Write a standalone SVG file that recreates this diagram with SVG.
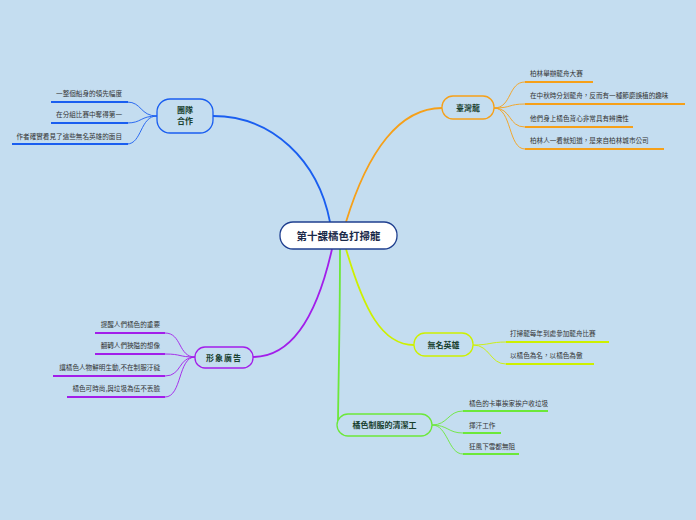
<svg xmlns="http://www.w3.org/2000/svg" width="696" height="520" viewBox="0 0 696 520">
<style>
text{font-family:"Noto Sans CJK TC","Noto Sans CJK SC",sans-serif;}
.leaf{font-size:6.6px;fill:#333;}
.topic{font-size:8px;font-weight:bold;fill:#17402E;}
.main{fill:none;stroke-width:1.8;}
.sub{fill:none;stroke-width:0.9;}
.ul{fill:none;stroke-width:2;}
.blue{stroke:#1A5EF0;}
.orange{stroke:#F6A019;}
.purple{stroke:#A21EEA;}
.yellow{stroke:#CDF000;}
.green{stroke:#6CE83A;}
.node{fill:#C4DDF0;stroke-width:1.3;}
</style>
<rect width="696" height="520" fill="#C4DDF0"/>
<g id="connectors">
<path class="main blue" d="M330,222 C318,160 272,116 213,116"/>
<path class="main orange" d="M346,222 C368,150 400,108 442,108"/>
<path class="main purple" d="M332,249 C316,320 290,357 253,357"/>
<path class="main yellow" d="M346,249 C364,310 382,345 414,345"/>
<path class="main green" d="M340,249 C340,330 338,400 338,425"/>
<path class="sub blue" d="M157,116 C140,116 142,102 127,102"/>
<path class="sub blue" d="M157,116 C140,116 142,123 127,123"/>
<path class="sub blue" d="M157,116 C140,116 142,144 127,144"/>
<path class="sub orange" d="M494,108 C512,108 508,82 525,82"/>
<path class="sub orange" d="M494,108 C512,108 508,104 525,104"/>
<path class="sub orange" d="M494,108 C512,108 508,127 525,127"/>
<path class="sub orange" d="M494,108 C512,108 508,149 525,149"/>
<path class="sub purple" d="M195,357 C178,357 182,333 165,333"/>
<path class="sub purple" d="M195,357 C178,357 182,354 165,354"/>
<path class="sub purple" d="M195,357 C178,357 182,376 165,376"/>
<path class="sub purple" d="M195,357 C178,357 182,397 165,397"/>
<path class="sub yellow" d="M473,345 C490,345 490,342 506,342"/>
<path class="sub yellow" d="M473,345 C490,345 490,364 506,364"/>
<path class="sub green" d="M432,425 C448,425 448,411 463,411"/>
<path class="sub green" d="M432,425 C448,425 448,433 463,433"/>
<path class="sub green" d="M432,425 C448,425 448,454 463,454"/>
</g>
<g id="center">
<rect x="280" y="222" width="117" height="27" rx="13" fill="#fff" stroke="#1F3F8F" stroke-width="1.3"/>
<text x="338.5" y="239.5" text-anchor="middle" font-size="10.5" font-weight="bold" fill="#1B2A4A">第十課橘色打掃龍</text>
</g>
<g id="team">
<rect class="node blue" x="157" y="99" width="56" height="34" rx="13"/>
<text class="topic" x="185" y="113" text-anchor="middle">團隊</text>
<text class="topic" x="185" y="124" text-anchor="middle">合作</text>
</g>
<g id="team-1"><path class="ul blue" d="M51,102 H128"/><text class="leaf" x="122" y="96" text-anchor="end">一整個船身的領先幅度</text></g>
<g id="team-2"><path class="ul blue" d="M51,123 H128"/><text class="leaf" x="122" y="117" text-anchor="end">在分組比賽中奪得第一</text></g>
<g id="team-3"><path class="ul blue" d="M12,144 H128"/><text class="leaf" x="122" y="139" text-anchor="end">作者確實看見了這些無名英雄的面目</text></g>
<g id="taiwan">
<rect class="node orange" x="442" y="96" width="52" height="23" rx="11"/>
<text class="topic" x="468" y="110.5" text-anchor="middle">臺灣龍</text>
</g>
<g id="taiwan-1"><path class="ul orange" d="M525,82 H593"/><text class="leaf" x="530" y="76">柏林舉辦龍舟大賽</text></g>
<g id="taiwan-2"><path class="ul orange" d="M525,104 H685"/><text class="leaf" x="530" y="98">在中秋時分划龍舟，反而有一種節慶誤植的趣味</text></g>
<g id="taiwan-3"><path class="ul orange" d="M525,127 H633"/><text class="leaf" x="530" y="121">他們身上橘色背心非常具有辨識性</text></g>
<g id="taiwan-4"><path class="ul orange" d="M525,149 H664"/><text class="leaf" x="530" y="143">柏林人一看就知道，是來自柏林城市公司</text></g>
<g id="image">
<rect class="node purple" x="195" y="347" width="58" height="21" rx="10"/>
<text class="topic" x="224" y="360.5" text-anchor="middle" font-weight="normal" letter-spacing="1">形象廣告</text>
</g>
<g id="image-1"><path class="ul purple" d="M95,333 H165"/><text class="leaf" x="160" y="327" text-anchor="end">提醒人們橘色的重要</text></g>
<g id="image-2"><path class="ul purple" d="M95,354 H165"/><text class="leaf" x="160" y="348" text-anchor="end">翻轉人們狹隘的想像</text></g>
<g id="image-3"><path class="ul purple" d="M53,376 H165"/><text class="leaf" x="160" y="370" text-anchor="end">讓橘色人物鮮明生動,不在制服汙穢</text></g>
<g id="image-4"><path class="ul purple" d="M67,397 H165"/><text class="leaf" x="160" y="391" text-anchor="end">橘色可時尚,與垃圾為伍不丟臉</text></g>
<g id="hero">
<rect class="node yellow" x="414" y="333" width="59" height="23" rx="11"/>
<text class="topic" x="443.5" y="347.5" text-anchor="middle">無名英雄</text>
</g>
<g id="hero-1"><path class="ul yellow" d="M506,342 H609"/><text class="leaf" x="510" y="336">打掃龍每年到處參加龍舟比賽</text></g>
<g id="hero-2"><path class="ul yellow" d="M506,364 H594"/><text class="leaf" x="510" y="358">以橘色為名，以橘色為傲</text></g>
<g id="cleaner">
<rect class="node green" x="337" y="414" width="95" height="22" rx="11"/>
<text class="topic" x="384.5" y="428" text-anchor="middle">橘色制服的清潔工</text>
</g>
<g id="cleaner-1"><path class="ul green" d="M463,411 H548"/><text class="leaf" x="469" y="406">橘色的卡車挨家挨户收垃圾</text></g>
<g id="cleaner-2"><path class="ul green" d="M463,433 H501"/><text class="leaf" x="469" y="428">揮汗工作</text></g>
<g id="cleaner-3"><path class="ul green" d="M463,454 H519"/><text class="leaf" x="469" y="449">狂風下雪都無阻</text></g>
</svg>
